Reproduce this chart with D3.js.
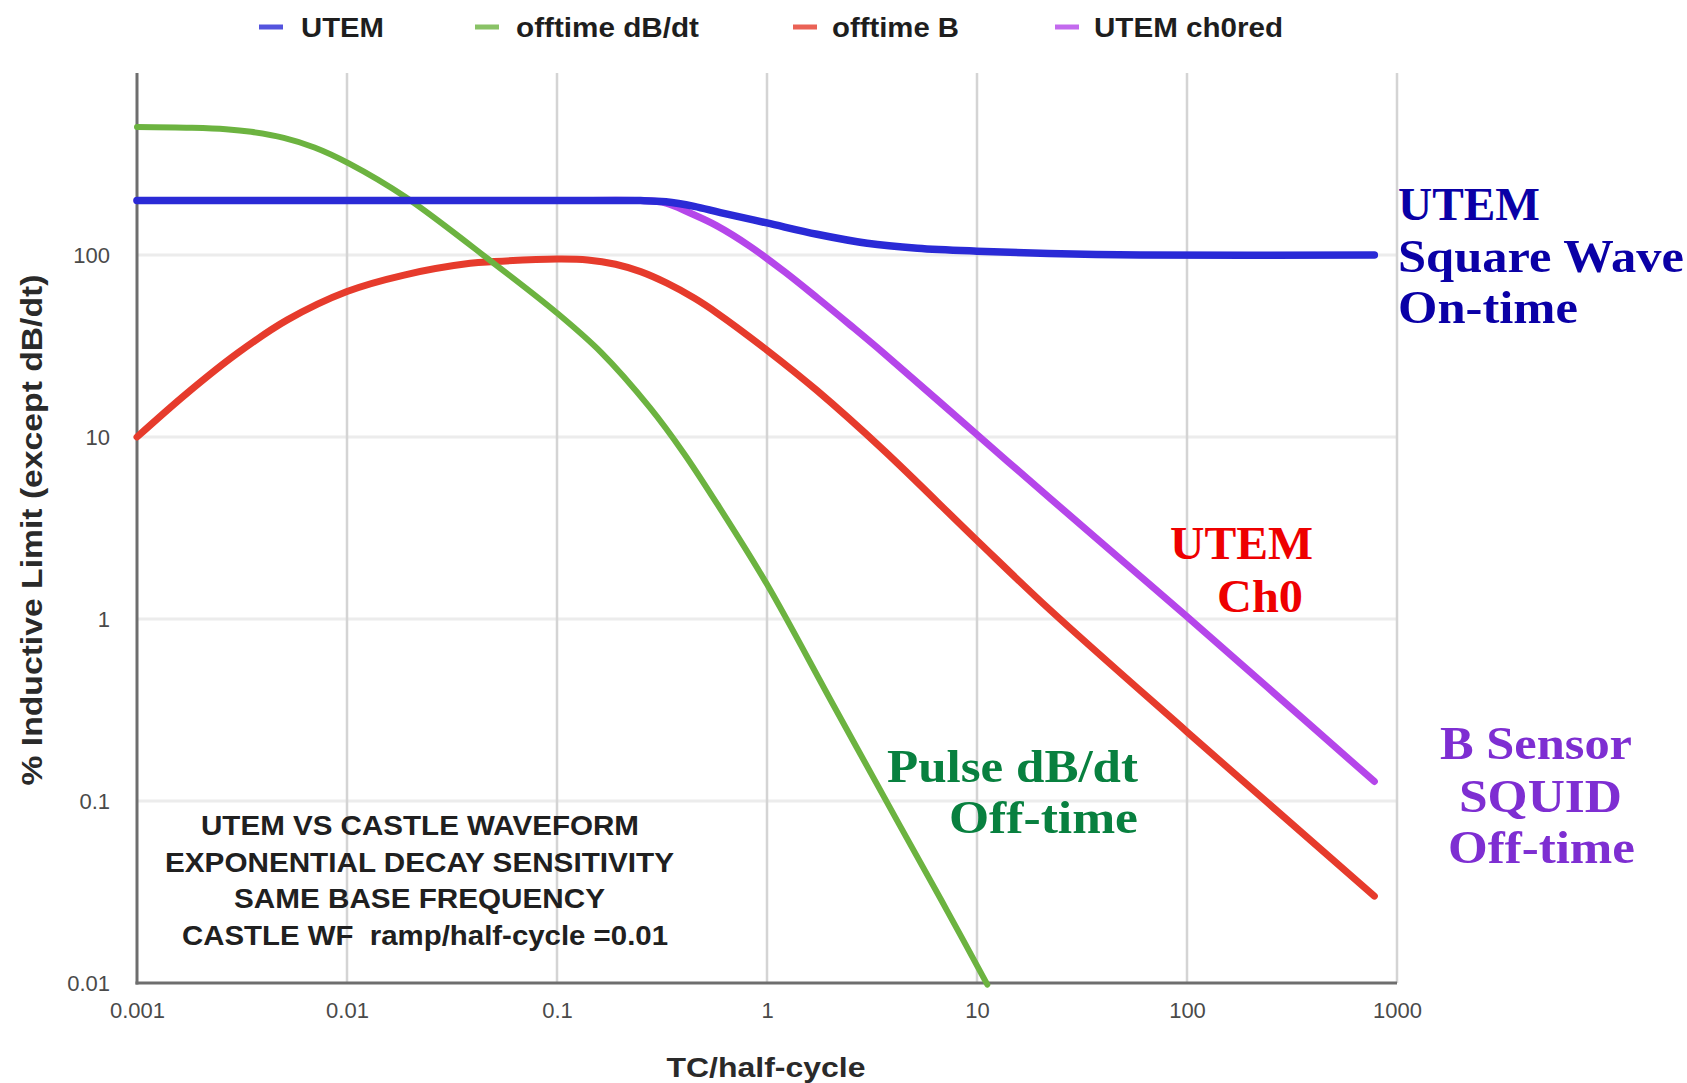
<!DOCTYPE html>
<html>
<head>
<meta charset="utf-8">
<script src="https://cdn.jsdelivr.net/npm/d3@7"></script>
<style>
  html, body { margin: 0; padding: 0; background: #ffffff; }
  svg { display: block; }
</style>
</head>
<body>
<svg id="chart" width="1687" height="1083"></svg>
<script>
// ---------- data ----------
const xTicks = [0.001, 0.01, 0.1, 1, 10, 100, 1000];
const xTickLabels = ["0.001", "0.01", "0.1", "1", "10", "100", "1000"];
const yTicks = [0.01, 0.1, 1, 10, 100];
const yTickLabels = ["0.01", "0.1", "1", "10", "100"];

const seriesNames = ["UTEM", "offtime dB/dt", "offtime B", "UTEM ch0red"];
const seriesColors = ["#2a2ad6", "#6cb340", "#e63b2c", "#b546ea"];

// TC/half-cycle values and % inductive limit values per series
const utemX = [0.001, 0.01, 0.1, 0.25, 0.33, 0.45, 0.6, 1, 1.73, 3, 5.2, 10, 22, 60, 780];
const utemY = [199, 199, 199, 199, 196, 185, 171, 150, 130, 116, 109, 105, 102, 100, 100];

const dbdtX = [0.001, 0.0018, 0.00265, 0.0035, 0.005, 0.007, 0.0102, 0.0189, 0.05, 0.1, 0.163, 0.277, 0.4, 0.578, 1, 2.06, 4.3, 7.2, 11.2];
const dbdtY = [505, 500, 491, 475, 440, 390, 319, 209, 90, 48, 29, 14.5, 8.2, 4.3, 1.55, 0.34, 0.073, 0.025, 0.0098];

const bX = [0.001, 0.00173, 0.003, 0.0052, 0.01, 0.0187, 0.0386, 0.05, 0.1, 0.14, 0.19, 0.25, 0.334, 0.45, 0.578, 1, 1.73, 3.58, 10, 22.3, 100, 780];
const bY = [10, 17.4, 28.8, 44, 63, 77.6, 90, 92, 95, 94, 89, 81, 70, 58, 48, 30, 18, 8.5, 2.7, 1.12, 0.24, 0.03];

const ch0X = [0.001, 0.01, 0.1, 0.25, 0.33, 0.43, 0.575, 0.83, 1.2, 1.73, 2.48, 3.58, 10, 22.3, 100, 780];
const ch0Y = [199, 199, 199, 199, 193, 170, 145, 111.6, 81.6, 58.3, 41.4, 29, 10.3, 4.6, 1.03, 0.128];

const xTitle = "TC/half-cycle";
const yTitle = "% Inductive Limit (except dB/dt)";
const noteLines = ["UTEM VS CASTLE WAVEFORM", "EXPONENTIAL DECAY SENSITIVITY", "SAME BASE FREQUENCY", "CASTLE WF  ramp/half-cycle =0.01"];

const blueLabel   = ["UTEM", "Square Wave", "On-time"];
const redLabel    = ["UTEM", "Ch0"];
const greenLabel  = ["Pulse dB/dt", "Off-time"];
const purpleLabel = ["B Sensor", "SQUID", "Off-time"];

// ---------- drawing ----------
const svg = d3.select("#chart");
const x = d3.scaleLog().domain([0.001, 1000]).range([137, 1397]);
const y = d3.scaleLog().domain([0.01, 1000]).range([983, 73]);

const sans = "'Liberation Sans', Arial, Helvetica, sans-serif";
const serif = "'Liberation Serif', 'Times New Roman', serif";

// gridlines
const grid = svg.append("g");
grid.selectAll("line.h").data([0.1, 1, 10, 100]).enter().append("line")
  .attr("x1", x(0.001)).attr("x2", x(1000))
  .attr("y1", d => y(d)).attr("y2", d => y(d))
  .attr("stroke", "#ececec").attr("stroke-width", 3);
grid.selectAll("line.v").data([0.01, 0.1, 1, 10, 100, 1000]).enter().append("line")
  .attr("x1", d => x(d)).attr("x2", d => x(d))
  .attr("y1", y(1000)).attr("y2", y(0.01))
  .attr("stroke", "#d4d4d4").attr("stroke-width", 2.5);

// axes
const xAxis = d3.axisBottom(x).tickValues(xTicks)
  .tickFormat((d, i) => xTickLabels[i]).tickSize(0).tickPadding(19);
const gx = svg.append("g").attr("transform", `translate(0,${y(0.01)})`).call(xAxis);
gx.select(".domain").remove();
gx.selectAll("text").attr("font-family", sans).attr("font-size", 22).attr("fill", "#4a4a4a");

const yAxis = d3.axisLeft(y).tickValues(yTicks)
  .tickFormat((d, i) => yTickLabels[i]).tickSize(0).tickPadding(27);
const gy = svg.append("g").attr("transform", `translate(${x(0.001)},0)`).call(yAxis);
gy.select(".domain").remove();
gy.selectAll("text").attr("font-family", sans).attr("font-size", 22).attr("fill", "#4a4a4a");

// axis lines
svg.append("line").attr("x1", x(0.001)).attr("x2", x(0.001))
  .attr("y1", y(1000)).attr("y2", y(0.01) + 1.5)
  .attr("stroke", "#6e6e6e").attr("stroke-width", 3);
svg.append("line").attr("x1", x(0.001) - 1.5).attr("x2", x(1000))
  .attr("y1", y(0.01)).attr("y2", y(0.01))
  .attr("stroke", "#6e6e6e").attr("stroke-width", 3);

// series lines
const line = d3.line().x(d => x(d[0])).y(d => y(d[1])).curve(d3.curveCatmullRom.alpha(0.5));
const zipS = (xs, ys) => xs.map((v, i) => [v, ys[i]]);
const series = [
  { data: zipS(ch0X, ch0Y), color: seriesColors[3], w: 7 },
  { data: zipS(bX, bY), color: seriesColors[2], w: 7 },
  { data: zipS(dbdtX, dbdtY), color: seriesColors[1], w: 6 },
  { data: zipS(utemX, utemY), color: seriesColors[0], w: 7.5 }
];
svg.append("g").selectAll("path").data(series).enter().append("path")
  .attr("d", d => line(d.data))
  .attr("fill", "none")
  .attr("stroke", d => d.color)
  .attr("stroke-width", d => d.w)
  .attr("stroke-linecap", "round")
  .attr("stroke-linejoin", "round");

// legend
const legendPos = [
  { sx: 259, tx: 301, tw: 83 },
  { sx: 475, tx: 516, tw: 183 },
  { sx: 793, tx: 832, tw: 127 },
  { sx: 1055, tx: 1094, tw: 189 }
];
const lg = svg.append("g");
seriesNames.forEach((name, i) => {
  const p = legendPos[i];
  lg.append("line").attr("x1", p.sx).attr("x2", p.sx + 24)
    .attr("y1", 27).attr("y2", 27)
    .attr("stroke", seriesColors[i]).attr("stroke-width", 5).attr("opacity", 0.8);
  lg.append("text").attr("x", p.tx).attr("y", 37)
    .attr("font-family", sans).attr("font-weight", "bold").attr("font-size", 27)
    .attr("fill", "#1e1e1e")
    .attr("textLength", p.tw).attr("lengthAdjust", "spacingAndGlyphs")
    .text(name);
});

// axis titles
svg.append("text").attr("x", 766).attr("y", 1077).attr("text-anchor", "middle")
  .attr("font-family", sans).attr("font-weight", "bold").attr("font-size", 28)
  .attr("fill", "#2a2a2a").attr("textLength", 199).attr("lengthAdjust", "spacingAndGlyphs")
  .text(xTitle);
svg.append("text").attr("transform", "translate(42,530) rotate(-90)")
  .attr("text-anchor", "middle")
  .attr("font-family", sans).attr("font-weight", "bold").attr("font-size", 29)
  .attr("fill", "#2a2a2a").attr("textLength", 511).attr("lengthAdjust", "spacingAndGlyphs")
  .text(yTitle);

// note inside plot
const noteX = [201, 165, 234, 182];
const noteW = [438, 509, 371, 486];
const noteY = [835, 872, 908, 945];
noteLines.forEach((t, i) => {
  svg.append("text").attr("x", noteX[i]).attr("y", noteY[i])
    .attr("font-family", sans).attr("font-weight", "bold").attr("font-size", 27)
    .attr("fill", "#202020").style("white-space", "pre")
    .attr("textLength", noteW[i]).attr("lengthAdjust", "spacingAndGlyphs")
    .text(t);
});

// serif annotations
function annot(lines, xs, ys, ws, color) {
  lines.forEach((t, i) => {
    svg.append("text").attr("x", xs[i]).attr("y", ys[i])
      .attr("font-family", serif).attr("font-weight", "bold").attr("font-size", 47)
      .attr("fill", color)
      .attr("textLength", ws[i]).attr("lengthAdjust", "spacingAndGlyphs")
      .text(t);
  });
}
annot(blueLabel, [1398, 1398, 1398], [220, 272, 323], [142, 286, 180], "#0a00a6");
annot(redLabel, [1170, 1217], [559, 612], [143, 86], "#ee0000");
annot(greenLabel, [887, 949], [782, 833], [251, 189], "#08803f");
annot(purpleLabel, [1440, 1459, 1448], [759, 812, 863], [192, 163, 187], "#7e2ed2");
</script>
</body>
</html>
